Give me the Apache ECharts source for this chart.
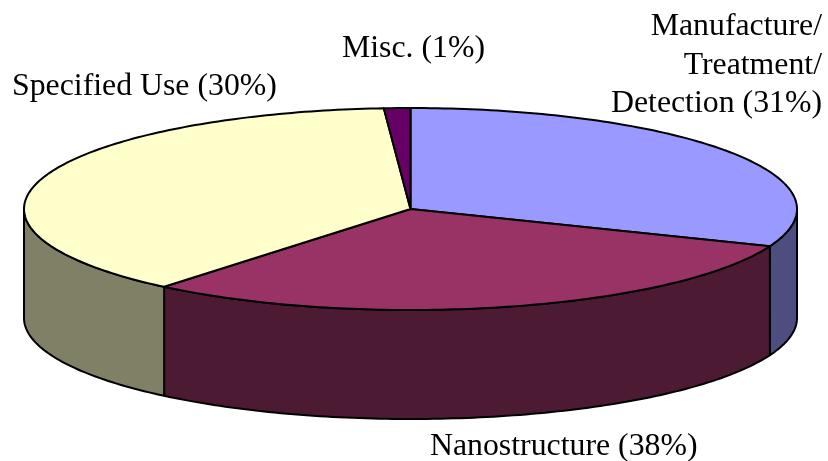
<!DOCTYPE html>
<html>
<head>
<meta charset="utf-8">
<style>
html, body { margin: 0; padding: 0; background: #fff; }
#chart { width: 828px; height: 461px; }
</style>
<script src="https://cdn.jsdelivr.net/npm/echarts@6/dist/echarts.min.js"></script>
</head>
<body>
<div id="chart"></div>
<script>
// slices clockwise from 12 o'clock
var categories = ['Manufacture', 'Nanostructure', 'Specified Use', 'Misc.'];
// share of the circle each slice occupies in the picture
var sliceShares = [31, 30, 37.9, 1.1];
// printed text, kept as it is in the picture (Nanostructure and Specified Use read swapped against their slices)
var labelLines = [
    ['Manufacture/', 'Treatment/', 'Detection (31%)'],
    ['Nanostructure (38%)'],
    ['Specified Use (30%)'],
    ['Misc. (1%)']
];
var topColors = ['#9999ff', '#993366', '#ffffcc', '#660066'];
var sideColors = ['#4d4d80', '#4d1a33', '#808066', '#330033'];

// pie geometry in px
var cx = 410.5, cy = 209, rx = 386.5, ry = 101, depth = 109;
var lineColor = '#000';
var lineWidth = 2;
var fontFamily = '"Liberation Serif", "Times New Roman", serif';
var fontSize = 31.8;
var lineHeight = 38.5;
// label anchors
var labelPos = [
    { x: 822, y: 27, align: 'right' },
    { x: 430, y: 447, align: 'left' },
    { x: 12, y: 87, align: 'left' },
    { x: 342, y: 49, align: 'left' }
];

// a = fraction of the turn, 0 at the top, clockwise
function rim(a, dy) {
    var t = a * 2 * Math.PI;
    return [cx + rx * Math.sin(t), cy - ry * Math.cos(t) + (dy || 0)];
}

function arc(from, to, dy) {
    var pts = [];
    var n = Math.max(2, Math.ceil((to - from) * 360));
    for (var i = 0; i <= n; i++) {
        pts.push(rim(from + (to - from) * i / n, dy));
    }
    return pts;
}

var total = sliceShares.reduce(function (a, b) { return a + b; }, 0);
var running = 0;
var sliceData = sliceShares.map(function (v, i) {
    var start = running / total;
    running += v;
    return { value: [start, running / total], name: categories[i] };
});

function renderSlice(params, api) {
    var from = api.value(0), to = api.value(1);
    var children = [];
    // the wall only shows on the front half of the rim
    var wallFrom = Math.max(from, 0.25), wallTo = Math.min(to, 0.75);
    if (wallTo > wallFrom) {
        var upper = arc(wallFrom, wallTo, 0);
        var lower = arc(wallFrom, wallTo, depth).reverse();
        children.push({
            type: 'polygon',
            shape: { points: upper.concat(lower) },
            style: { fill: sideColors[params.dataIndex], stroke: lineColor, lineWidth: lineWidth, lineJoin: 'round' }
        });
    }
    children.push({
        type: 'polygon',
        z2: 10,
        shape: { points: [[cx, cy]].concat(arc(from, to, 0)) },
        style: { fill: topColors[params.dataIndex], stroke: lineColor, lineWidth: lineWidth, lineJoin: 'round' }
    });
    return { type: 'group', children: children };
}

var labelElements = [];
labelLines.forEach(function (lines, i) {
    lines.forEach(function (line, j) {
        labelElements.push({
            type: 'text',
            x: labelPos[i].x,
            y: labelPos[i].y + j * lineHeight,
            style: {
                text: line,
                fill: '#000',
                font: fontSize + 'px ' + fontFamily,
                textAlign: labelPos[i].align,
                textVerticalAlign: 'middle'
            }
        });
    });
});

var chart = echarts.init(document.getElementById('chart'));
chart.setOption({
    animation: false,
    backgroundColor: '#fff',
    graphic: { elements: labelElements },
    series: [{
        type: 'custom',
        coordinateSystem: 'none',
        renderItem: renderSlice,
        data: sliceData,
        silent: true
    }]
});
</script>
</body>
</html>
